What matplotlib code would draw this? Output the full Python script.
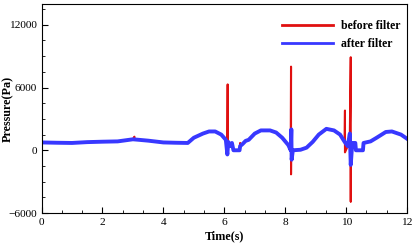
"""Pressure signal before / after filtering."""

import matplotlib
matplotlib.use("Agg")
import matplotlib.pyplot as plt
from matplotlib.ticker import MultipleLocator
import numpy as np

plt.rcParams["font.family"] = ["Liberation Serif", "DejaVu Serif"]

# filtered signal (time in s, pressure in Pa)
t_after = [0.0, 0.5, 1.0, 1.5, 2.0, 2.5, 3.0, 3.2, 3.5, 4.0, 4.4, 4.8,
           5.0, 5.3, 5.5, 5.7, 5.9, 6.05, 6.1, 6.13, 6.2, 6.25, 6.3, 6.5,
           6.52, 6.6, 6.7, 6.8, 7.0, 7.2, 7.5, 7.7, 7.9, 8.1, 8.18, 8.2,
           8.21, 8.25, 8.5, 8.7, 8.9, 9.1, 9.35, 9.6, 9.8, 9.95, 10.05,
           10.12, 10.15, 10.2, 10.3, 10.32, 10.55, 10.57, 10.8, 11.0, 11.3,
           11.5, 11.8, 12.0]
p_after = [750, 720, 700, 780, 820, 850, 1050, 1000, 920, 750, 720, 700,
           1200, 1600, 1800, 1800, 1500, 1000, -400, 800, 400, 700, 0, 0,
           400, 600, 900, 1000, 1600, 1900, 1900, 1700, 1200, 500, 0, 2000,
           -900, 0, 50, 250, 800, 1500, 2050, 1900, 1500, 800, 400,
           1600, -1400, 700, 700, 0, 0, 700, 850, 1200, 1750,
           1800, 1500, 1100]

# spikes that only the raw signal has
spike_t = [0.0, 3.05, 6.11, 6.52, 8.19, 9.96, 10.15]
spike_hi = [0, 1300, 6300, 700, 8000, 3800, 8900]
spike_lo = [750, 1000, -300, 300, -2300, -200, -4900]


def with_spikes(t, p):
    t = list(t)
    p = list(p)
    for ts, hi, lo in zip(spike_t, spike_hi, spike_lo):
        i = int(np.searchsorted(t, ts))
        t[i:i] = [ts, ts]
        p[i:i] = [hi, lo]
    return t, p


t_before, p_before = with_spikes(t_after, p_after)

fig = plt.figure(figsize=(4.15, 2.44), dpi=100)
ax = fig.add_axes([0.1, 0.127, 0.881, 0.857])

ax.plot(t_before, p_before, color="#e01010", linewidth=1.5, label="before filter")
ax.plot(t_after, p_after, color="#3838ff", linewidth=2.8, label="after filter")

ax.set_xlim(0, 12)
ax.set_ylim(-6000, 14000)
ax.xaxis.set_major_locator(MultipleLocator(2))
ax.xaxis.set_minor_locator(MultipleLocator(2 / 3))
ax.yaxis.set_major_locator(MultipleLocator(6000))
ax.yaxis.set_minor_locator(MultipleLocator(1500))
ax.tick_params(which="both", direction="in", labelsize=8.2, pad=3.5)
ax.tick_params(which="major", length=4)
ax.tick_params(which="minor", length=2)

ax.set_xlabel("Time(s)", fontsize=8.7, fontweight="bold")
ax.xaxis.set_label_coords(0.5, -0.083)
ax.set_ylabel("Pressure(Pa)", fontsize=8.7, fontweight="bold")
ax.yaxis.set_label_coords(-0.074, 0.5)

leg = ax.legend(loc="upper left", bbox_to_anchor=(0.63, 0.975), frameon=False,
                handlelength=4.3, handletextpad=0.7, labelspacing=0.55,
                prop={"weight": "bold", "size": 8.5})
for line in leg.get_lines():
    line.set_linewidth(2)

fig.savefig("out.png", dpi=100)
plt.close(fig)
